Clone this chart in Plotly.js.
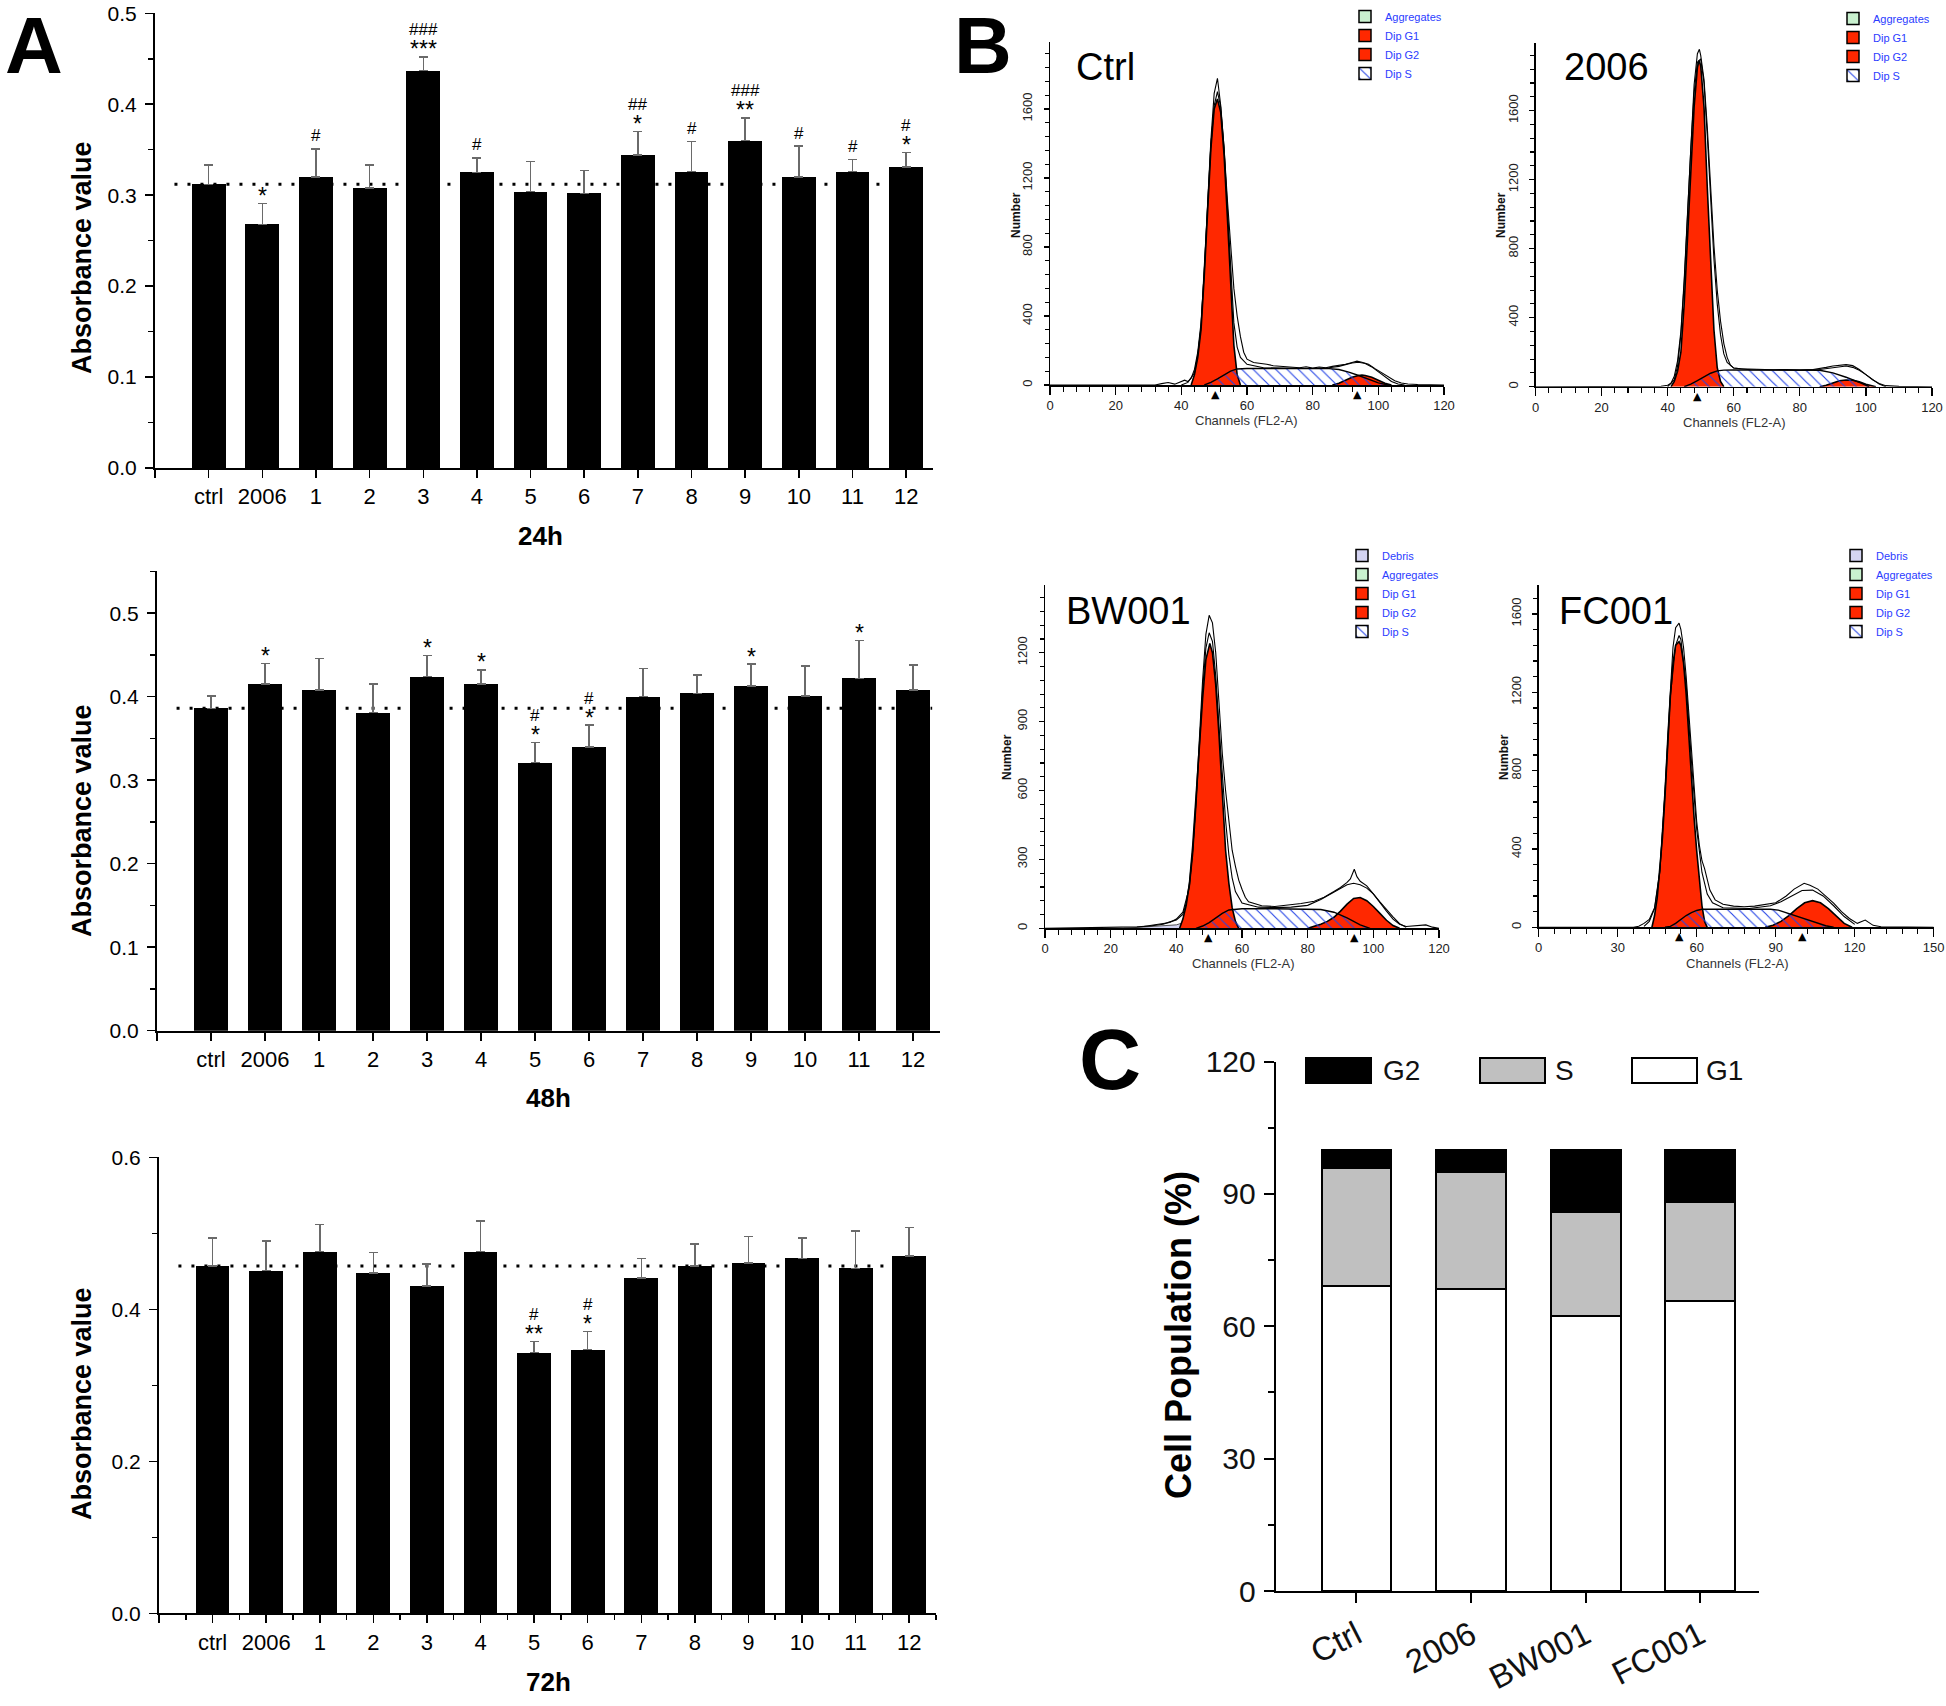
<!DOCTYPE html>
<html><head><meta charset="utf-8">
<script src="https://cdn.plot.ly/plotly-3.0.1.min.js"></script>
<style>html,body{margin:0;padding:0;background:#fff;width:1946px;height:1706px;overflow:hidden;} #chart{width:1946px;height:1706px;}</style>
</head><body><div id="chart"></div>
<script>
// ---------------- Panel A data ----------------
const categories = ['ctrl','2006','1','2','3','4','5','6','7','8','9','10','11','12'];
const mean24 = [0.312, 0.268, 0.320, 0.308, 0.437, 0.325, 0.304, 0.302, 0.344, 0.326, 0.360, 0.320, 0.326, 0.331];
const sd24   = [0.021, 0.023, 0.031, 0.025, 0.015, 0.016, 0.033, 0.025, 0.026, 0.033, 0.025, 0.034, 0.013, 0.016];
const star24 = ['', '*', '', '', '***', '', '', '', '*', '', '**', '', '', '*'];
const hash24 = ['', '', '#', '', '###', '#', '', '', '##', '#', '###', '#', '#', '#'];
const mean48 = [0.386, 0.415, 0.408, 0.381, 0.424, 0.415, 0.321, 0.340, 0.400, 0.404, 0.413, 0.401, 0.422, 0.408];
const sd48   = [0.015, 0.025, 0.038, 0.034, 0.025, 0.017, 0.024, 0.026, 0.034, 0.022, 0.026, 0.036, 0.045, 0.030];
const star48 = ['', '*', '', '', '*', '*', '*', '*', '', '', '*', '', '*', ''];
const hash48 = ['', '', '', '', '', '', '#', '#', '', '', '', '', '', ''];
const mean72 = [0.457, 0.451, 0.476, 0.448, 0.431, 0.476, 0.343, 0.347, 0.441, 0.457, 0.461, 0.467, 0.454, 0.470];
const sd72   = [0.037, 0.039, 0.036, 0.027, 0.029, 0.040, 0.015, 0.024, 0.026, 0.029, 0.035, 0.027, 0.049, 0.038];
const star72 = ['', '', '', '', '', '', '**', '*', '', '', '', '', '', ''];
const hash72 = ['', '', '', '', '', '', '#', '#', '', '', '', '', '', ''];
const timeLabels = ['24h', '48h', '72h'];

// ---------------- Panel C data ----------------
const cycleGroups = ['Ctrl', '2006', 'BW001', 'FC001'];
const g1Pct = [69.1, 68.4, 62.4, 65.7];
const sPct  = [26.8, 26.6, 23.6, 22.5];
const g2Pct = [4.1, 5.0, 14.0, 11.8];
const phaseNames = ['G2', 'S', 'G1'];
const phaseFill = ['#000000', '#c0c0c0', '#ffffff'];

// ---------------- Panel B data (channel, count) ----------------
const ctrlDataCh = [0,32,34,36,38,40,41,42,43,44,45,46,47,48,49,50,51,52,53,54,55,56,57,58,59,60,62,64,66,68,70,72,74,76,78,80,82,84,86,88,90,92,93.5,95,97,99,101,103,105,107,109,112,115,120];
const ctrlDataN  = [0,0,8,14,5,22,28,20,40,90,190,360,660,1050,1420,1690,1778,1620,1380,1080,790,560,400,280,190,150,130,126,120,112,110,108,104,100,106,98,104,100,108,112,120,130,138,132,120,95,70,45,25,12,6,3,2,0];
const ctrlFitCh = [40,42,44,45,46,47,48,49,50,51,52,53,54,55,56,57,58,60,65,70,75,80,85,88,90,92,94,96,98,100,102,104,106,108];
const ctrlFitN  = [0,15,70,175,340,660,1040,1390,1620,1700,1610,1380,1030,650,360,220,160,120,100,98,97,96,100,108,118,128,132,125,105,75,45,20,6,0];
const ctrlG1Ch = [43,44,45,46,47,48,49,50,51,52,53,54,55,56,57,58];
const ctrlG1N  = [0,60,160,320,640,1020,1370,1600,1658,1580,1340,980,560,230,60,0];
const ctrlSCh = [47,49,51,53,55,57,60,70,80,85,88,91,94,97,100,103];
const ctrlSN  = [0,15,35,58,80,93,96,96,96,95,90,75,55,32,12,0];
const ctrlG2Ch = [86,88,90,92,94,95,96,98,100,102,104];
const ctrlG2N  = [0,10,28,45,55,58,55,45,28,10,0];
const ctrlPeaks = [50.5, 93.6];

const d06DataCh = [0,36,38,40,41,42,43,44,45,46,47,48,49,49.6,50,51,52,53,54,55,56,57,58,59,60,62,64,68,72,76,80,84,86,88,90,92,94,96,98,100,102,104,106,110,120];
const d06DataN  = [0,0,3,8,20,60,150,320,620,1000,1400,1750,1930,1955,1920,1780,1500,1150,820,560,380,250,170,125,108,104,102,100,98,100,97,100,104,112,120,124,128,122,100,70,40,18,6,2,0];
const d06FitCh = [40,42,43,44,45,46,47,48,49,50,51,52,53,54,55,56,57,58,60,65,70,80,86,88,90,92,94,96,98,100,102,104,106];
const d06FitN  = [0,40,120,300,600,1000,1380,1700,1880,1900,1760,1450,1080,740,480,300,190,140,108,98,97,96,100,106,112,118,120,112,95,70,40,15,0];
const d06G1Ch = [41,42,43,44,45,46,47,48,49,49.5,50,51,52,53,54,55,56,57];
const d06G1N  = [0,30,90,200,480,850,1250,1620,1850,1891,1860,1620,1150,700,330,110,30,0];
const d06SCh = [45,47,49,51,53,55,57,60,70,80,86,90,94,98,101];
const d06SN  = [0,15,35,58,78,92,96,97,97,97,95,80,55,25,0];
const d06G2Ch = [86,88,90,92,94,96,98,100,103];
const d06G2N  = [0,8,22,34,39,37,28,14,0];
const d06Peaks = [49];

const bwDataCh = [0,24,28,32,36,38,40,42,43,44,45,46,47,48,49,50,51,52,53,54,55,56,57,58,59,60,61,62,66,70,74,78,82,85,88,90,92,93,94.2,95,96,98,100,102,104,106,108,110,113,116,118,120];
const bwDataN  = [0,4,6,10,18,28,36,60,110,200,340,560,830,1080,1280,1363,1330,1200,980,760,600,460,340,270,210,170,135,115,98,95,100,108,118,135,160,178,200,215,257,225,205,185,150,110,75,40,18,8,10,15,5,0];
const bwFitCh = [30,38,40,42,44,45,46,47,48,49,50,51,52,53,54,55,56,57,58,60,65,70,75,80,84,87,90,92,94,96,98,100,102,104,106,108,110];
const bwFitN  = [8,25,40,70,180,320,530,800,1040,1220,1287,1250,1100,880,660,470,320,220,160,110,92,90,92,100,125,150,175,190,196,190,175,150,115,80,50,20,5];
const bwG1Ch = [41,42,43,44,45,46,47,48,49,50,50.2,51,52,53,54,55,56,57,58,59];
const bwG1N  = [0,40,100,196,360,580,800,1000,1170,1235,1240,1200,1060,840,580,340,196,90,30,0];
const bwSCh = [46,48,50,52,54,56,58,60,70,80,84,88,92,96,99];
const bwSN  = [0,10,25,45,65,80,84,85,85,84,82,70,45,15,0];
const bwG2Ch = [80,82,84,86,88,90,92,94,96,98,100,102,104,106,108];
const bwG2N  = [0,8,18,30,48,75,105,130,134,120,95,65,35,12,0];
const bwDebrisCh = [24,30,36,40,43,45,46,48,50,53,56];
const bwDebrisN  = [0,5,10,15,28,40,44,38,25,10,0];
const bwPeaks = [49.8, 94.2];

const fcDataCh = [0,36,38,40,42,44,46,47,48,49,50,51,52,53.3,54,55,56,57,58,59,60,61,62,63,64,65,67,70,74,78,82,86,90,94,97,100.8,103,106,109,112,115,118,121,124,127,130,150];
const fcDataN  = [0,0,5,20,40,100,290,480,720,980,1230,1430,1530,1553,1520,1430,1280,1100,900,700,540,420,340,300,250,190,140,118,108,105,108,115,125,160,195,225,215,195,160,123,80,45,20,37,10,3,0];
const fcFitCh = [40,42,44,46,48,50,52,53.3,54,56,58,60,62,64,66,70,80,88,92,96,100,104,108,112,116,120];
const fcFitN  = [5,30,95,280,690,1180,1440,1490,1470,1240,850,500,280,170,125,100,96,110,130,160,188,190,160,110,55,15];
const fcG1Ch = [43,44,45,46,47,48,49,50,51,52,53.3,54,55,56,57,58,59,60,61,62,63,64];
const fcG1N  = [0,60,150,290,460,680,940,1180,1350,1440,1459,1440,1350,1190,980,760,560,390,230,110,30,0];
const fcSCh = [48,50,52,54,56,58,60,62,70,80,88,91,95,100,105,109,112];
const fcSN  = [0,5,20,40,60,75,86,92,93,93,92,88,70,45,22,8,0];
const fcG2Ch = [86,89,92,95,98,101,104,107,110,113,116,119];
const fcG2N  = [0,10,30,60,95,125,136,125,95,55,20,0];
const fcPeaks = [53.3, 100.3];

// legend keys (components named in the ModFit legends)
const legendNames = ['Debris', 'Aggregates', 'Dip G1', 'Dip G2', 'Dip S'];
const legendColors = ['#d4d4f2', '#c9f1cf', '#ff2800', '#ff2800', '#ffffff'];
const noData = [null];

// ---------------- build ----------------
const W = 1946, H = 1706;
const FONT = 'Liberation Sans, Arial, sans-serif';
const NARROW = 'Liberation Sans Narrow, Arial Narrow, Liberation Sans, Arial, sans-serif';
const px = p => p / W;
const py = p => 1 - p / H;
const dx = (a, b) => [px(a), px(b)];
const dy = (top, bottom) => [py(bottom), py(top)];

const traces = [];
const annotations = [];
const shapes = [];
const layout = {
  width: W, height: H, autosize: false, margin: {l: 0, r: 0, t: 0, b: 0},
  paper_bgcolor: '#ffffff', plot_bgcolor: 'rgba(0,0,0,0)',
  font: {family: FONT, color: '#000'},
  barmode: 'stack', showlegend: true,
  annotations: annotations, shapes: shapes
};

const idx = categories.map((c, i) => i);

function barPanel(n, xdom, ydom, ymax, dt, mdt, xMinor, means, sds, stars, hashes) {
  const xa = n === 1 ? 'x' : 'x' + n, ya = n === 1 ? 'y' : 'y' + n;
  const xk = n === 1 ? 'xaxis' : 'xaxis' + n, yk = n === 1 ? 'yaxis' : 'yaxis' + n;
  traces.push({
    type: 'bar', x: idx, y: means, xaxis: xa, yaxis: ya, width: 0.63,
    marker: {color: '#000', line: {width: 0}}, showlegend: false, hoverinfo: 'skip',
    error_y: {type: 'data', symmetric: false, array: sds, arrayminus: sds.map(() => 0),
              color: '#6a6a6a', thickness: 1.5, width: 4.5}
  });
  shapes.push({type: 'line', xref: xa + ' domain', yref: ya, x0: 0.025, x1: 0.99,
               y0: means[0], y1: means[0], layer: 'below',
               line: {color: '#000', width: 3, dash: '3px,10px'}});
  idx.forEach(i => {
    const top = means[i] + sds[i];
    if (stars[i]) annotations.push({xref: xa, yref: ya, x: i, y: top, text: stars[i], showarrow: false,
      yanchor: 'middle', yshift: 7.5, font: {size: 23, color: '#000'}});
    if (hashes[i]) annotations.push({xref: xa, yref: ya, x: i, y: top, text: hashes[i], showarrow: false,
      yanchor: 'middle', yshift: stars[i] ? 27 : 13, font: {size: 17, color: '#000'}});
  });
  layout[xk] = {
    domain: xdom, anchor: ya, range: [-1, 13.5], tickmode: 'array',
    tickvals: [-1].concat(idx), ticktext: [''].concat(categories),
    ticks: 'outside', ticklen: 8, tickwidth: 1.5, tickcolor: '#000',
    showline: true, linewidth: 2, linecolor: '#000', showgrid: false, zeroline: false,
    tickfont: {size: 22, color: '#000'}, fixedrange: true
  };
  if (xMinor) layout[xk].minor = {tickmode: 'linear', tick0: -0.5, dtick: 1, ticks: 'outside',
                                  ticklen: 5, tickwidth: 1.5, tickcolor: '#000'};
  layout[yk] = {
    domain: ydom, anchor: xa, range: [0, ymax], tick0: 0, dtick: dt, tickformat: '.1f',
    ticks: 'outside', ticklen: 8, tickwidth: 1.5, tickcolor: '#000', ticklabelstandoff: 4,
    minor: {tick0: 0, dtick: mdt, ticks: 'outside', ticklen: 5, tickwidth: 1.5, tickcolor: '#000'},
    showline: true, linewidth: 2, linecolor: '#000', showgrid: false, zeroline: false,
    tickfont: {size: 21, color: '#000'}, fixedrange: true
  };
}

barPanel(1, dx(155, 933), dy(13.3, 468), 0.5, 0.1, 0.05, false, mean24, sd24, star24, hash24);
barPanel(2, dx(157, 940), dy(571.4, 1030.7), 0.55, 0.1, 0.05, false, mean48, sd48, star48, hash48);
barPanel(3, dx(159, 936), dy(1157.4, 1613.3), 0.6, 0.2, 0.1, true, mean72, sd72, star72, hash72);

const yTitleY = [258, 821, 1404];
const timeX = [540, 548, 548];
const timeY = [536, 1097.5, 1681.5];
timeLabels.forEach((t, k) => {
  annotations.push({xref: 'paper', yref: 'paper', x: px(timeX[k]), y: py(timeY[k]), text: '<b>' + t + '</b>',
    showarrow: false, xanchor: 'center', yanchor: 'middle', font: {size: 26, color: '#000'}});
  annotations.push({xref: 'paper', yref: 'paper', x: px(82), y: py(yTitleY[k]), text: '<b>Absorbance value</b>',
    textangle: -90, showarrow: false, xanchor: 'center', yanchor: 'middle', font: {size: 27, color: '#000'}});
});

// ---------------- Panel B ----------------
function flowPanel(n, legendId, d) {
  const xa = 'x' + n, ya = 'y' + n;
  const c = {type: 'scatter', mode: 'lines', xaxis: xa, yaxis: ya, hoverinfo: 'skip', showlegend: false};
  if (d.debrisCh) traces.push(Object.assign({}, c, {name: 'Debris', x: d.debrisCh, y: d.debrisN, fill: 'tozeroy',
    fillcolor: legendColors[0], line: {color: '#555', width: 1}}));
  traces.push(Object.assign({}, c, {name: 'Dip G1', x: d.g1Ch, y: d.g1N, fill: 'tozeroy',
    fillcolor: legendColors[2], line: {color: '#000', width: 1.6}}));
  traces.push(Object.assign({}, c, {name: 'Dip G2', x: d.g2Ch, y: d.g2N, fill: 'tozeroy',
    fillcolor: legendColors[3], line: {color: '#000', width: 1.6}}));
  traces.push(Object.assign({}, c, {name: 'Dip S', x: d.sCh, y: d.sN, fill: 'tozeroy',
    fillcolor: 'rgba(255,255,255,0)',
    fillpattern: {shape: '\\', fgcolor: '#2544e6', bgcolor: 'rgba(255,255,255,0)', size: 8, solidity: 0.14},
    line: {color: '#000', width: 1.4}}));
  traces.push(Object.assign({}, c, {name: 'fit', x: d.fitCh, y: d.fitN, line: {color: '#000', width: 1.1}}));
  traces.push(Object.assign({}, c, {name: 'data', x: d.dataCh, y: d.dataN, line: {color: '#000', width: 1.1}}));
  legendNames.forEach((nm, k) => {
    if (k === 0 && !d.showDebris) return;
    const mk = {color: legendColors[k], line: {color: '#000', width: 1.5}};
    if (nm === 'Dip S') mk.pattern = {shape: '\\', fgcolor: '#2544e6', bgcolor: '#ffffff', size: 9, solidity: 0.15};
    traces.push({type: 'bar', x: noData, y: noData, xaxis: xa, yaxis: ya, name: nm, marker: mk,
      legend: legendId, showlegend: true, hoverinfo: 'skip', legendrank: k + 1});
  });
  d.peaks.forEach(p => annotations.push({xref: xa, yref: ya, x: p, y: 0, text: '▲', showarrow: false,
    yanchor: 'top', yshift: -1, font: {size: 11, color: '#000', family: 'DejaVu Sans'}}));
  layout['xaxis' + n] = {
    domain: d.xdom, anchor: ya, range: [0, d.xmax], tick0: 0, dtick: d.xdt,
    ticks: 'outside', ticklen: 8, tickwidth: 1.2, tickcolor: '#000',
    minor: {tick0: 0, dtick: d.xmdt, ticks: 'outside', ticklen: 5, tickwidth: 1.1, tickcolor: '#000'},
    showline: true, linewidth: 1.5, linecolor: '#000', showgrid: false, zeroline: false,
    tickfont: {size: 13, family: NARROW, color: '#222'}, fixedrange: true
  };
  layout['yaxis' + n] = {
    domain: d.ydom, anchor: xa, range: [0, d.ymax], tick0: 0, dtick: d.ydt, tickangle: -90,
    ticks: 'outside', ticklen: 5, tickwidth: 1.2, tickcolor: '#000', ticklabelstandoff: 6,
    minor: {tick0: 0, dtick: d.ymdt, ticks: 'outside', ticklen: 4, tickwidth: 1.1, tickcolor: '#000'},
    showline: true, linewidth: 1.5, linecolor: '#000', showgrid: false, zeroline: false,
    tickfont: {size: 13, family: NARROW, color: '#222'}, fixedrange: true
  };
  annotations.push({xref: 'paper', yref: 'paper', x: px(d.nameX), y: py(d.nameY), text: d.name, showarrow: false,
    xanchor: 'center', yanchor: 'middle', font: {size: 38, color: '#000'}});
  annotations.push({xref: 'paper', yref: 'paper', x: px(d.numX), y: py(d.numY), text: '<b>Number</b>', textangle: -90,
    showarrow: false, xanchor: 'center', yanchor: 'middle', font: {size: 12, color: '#111'}});
  annotations.push({xref: 'paper', yref: 'paper', x: px(d.chX), y: py(d.chY), text: 'Channels (FL2-A)', showarrow: false,
    xanchor: 'center', yanchor: 'middle', font: {size: 13, family: NARROW, color: '#333'}});
  layout[legendId] = {x: px(d.legX), y: py(d.legY), xanchor: 'left', yanchor: 'top', bgcolor: 'rgba(0,0,0,0)',
    font: {size: 11, color: '#2b3cff', family: NARROW}, tracegroupgap: 0, itemwidth: 30, traceorder: 'normal'};
}

flowPanel(4, 'legend2', {name: 'Ctrl', nameX: 1105, nameY: 66.7, numX: 1016, numY: 215, chX: 1246, chY: 420.7,
  legX: 1345, legY: 2, xdom: dx(1050, 1444), ydom: dy(41.7, 385), xmax: 120, xdt: 20, xmdt: 4,
  ymax: 1990, ydt: 400, ymdt: 80, showDebris: false,
  dataCh: ctrlDataCh, dataN: ctrlDataN, fitCh: ctrlFitCh, fitN: ctrlFitN, g1Ch: ctrlG1Ch, g1N: ctrlG1N,
  sCh: ctrlSCh, sN: ctrlSN, g2Ch: ctrlG2Ch, g2N: ctrlG2N, peaks: ctrlPeaks});
flowPanel(5, 'legend3', {name: '2006', nameX: 1606.6, nameY: 66.7, numX: 1501, numY: 215, chX: 1734, chY: 422.7,
  legX: 1833, legY: 4, xdom: dx(1535.5, 1932), ydom: dy(43.3, 386.7), xmax: 120, xdt: 20, xmdt: 4,
  ymax: 1990, ydt: 400, ymdt: 80, showDebris: false,
  dataCh: d06DataCh, dataN: d06DataN, fitCh: d06FitCh, fitN: d06FitN, g1Ch: d06G1Ch, g1N: d06G1N,
  sCh: d06SCh, sN: d06SN, g2Ch: d06G2Ch, g2N: d06G2N, peaks: d06Peaks});
flowPanel(6, 'legend4', {name: 'BW001', nameX: 1128, nameY: 610.8, numX: 1007, numY: 757, chX: 1243, chY: 963,
  legX: 1342, legY: 541, xdom: dx(1045, 1439), ydom: dy(585, 928.3), xmax: 120, xdt: 20, xmdt: 4,
  ymax: 1495, ydt: 300, ymdt: 60, showDebris: true, debrisCh: bwDebrisCh, debrisN: bwDebrisN,
  dataCh: bwDataCh, dataN: bwDataN, fitCh: bwFitCh, fitN: bwFitN, g1Ch: bwG1Ch, g1N: bwG1N,
  sCh: bwSCh, sN: bwSN, g2Ch: bwG2Ch, g2N: bwG2N, peaks: bwPeaks});
flowPanel(7, 'legend5', {name: 'FC001', nameX: 1615.8, nameY: 610.8, numX: 1504, numY: 757, chX: 1737, chY: 963,
  legX: 1836, legY: 541, xdom: dx(1538.7, 1933.7), ydom: dy(585, 927.3), xmax: 150, xdt: 30, xmdt: 6,
  ymax: 1748, ydt: 400, ymdt: 80, showDebris: true,
  dataCh: fcDataCh, dataN: fcDataN, fitCh: fcFitCh, fitN: fcFitN, g1Ch: fcG1Ch, g1N: fcG1N,
  sCh: fcSCh, sN: fcSN, g2Ch: fcG2Ch, g2N: fcG2N, peaks: fcPeaks});

// ---------------- Panel C ----------------
const gIdx = cycleGroups.map((g, i) => i);
const cBar = {type: 'bar', x: gIdx, xaxis: 'x8', yaxis: 'y8', width: 0.61, hoverinfo: 'skip', showlegend: false};
traces.push(Object.assign({}, cBar, {name: 'G1', y: g1Pct, marker: {color: phaseFill[2], line: {color: '#000', width: 2}}}));
traces.push(Object.assign({}, cBar, {name: 'S', y: sPct, marker: {color: phaseFill[1], line: {color: '#000', width: 2}}}));
traces.push(Object.assign({}, cBar, {name: 'G2', y: g2Pct, marker: {color: phaseFill[0], line: {color: '#000', width: 2}}}));
layout.xaxis8 = {domain: dx(1275.7, 1758.6), anchor: 'y8', range: [-0.705, 3.51], tickmode: 'array',
  tickvals: gIdx, ticktext: cycleGroups, tickangle: -27, ticks: 'outside', ticklen: 10, tickwidth: 2, tickcolor: '#000',
  showline: true, linewidth: 2, linecolor: '#000', showgrid: false, zeroline: false,
  tickfont: {size: 33, color: '#111'}, fixedrange: true};
layout.yaxis8 = {domain: dy(1061.6, 1591), anchor: 'x8', range: [0, 120], tick0: 0, dtick: 30,
  ticks: 'outside', ticklen: 10, tickwidth: 2, tickcolor: '#000', ticklabelstandoff: 2,
  minor: {tick0: 0, dtick: 15, ticks: 'outside', ticklen: 6, tickwidth: 2, tickcolor: '#000'},
  showline: true, linewidth: 2, linecolor: '#000', showgrid: false, zeroline: false,
  tickfont: {size: 30, color: '#111'}, fixedrange: true};
const keyBoxX = [1338.5, 1512, 1664];
const keyTextX = [1381, 1553, 1704];
phaseNames.forEach((nm, k) => {
  annotations.push({xref: 'paper', yref: 'paper', x: px(keyBoxX[k]), y: py(1070.5), text: ' ', showarrow: false,
    xanchor: 'center', yanchor: 'middle', width: 63, height: 23, borderpad: 0, borderwidth: 2,
    bordercolor: '#000', bgcolor: phaseFill[k], font: {size: 4}});
  annotations.push({xref: 'paper', yref: 'paper', x: px(keyTextX[k]), y: py(1070), text: nm, showarrow: false,
    xanchor: 'left', yanchor: 'middle', font: {size: 28, color: '#111'}});
});
annotations.push({xref: 'paper', yref: 'paper', x: px(1178), y: py(1335), text: '<b>Cell Population (%)</b>',
  textangle: -90, showarrow: false, xanchor: 'center', yanchor: 'middle', font: {size: 36, color: '#000'}});

// panel letters (A and B anchored to the top edge so they stay fully inside the page)
[['A', 33.5, 80], ['B', 983, 80]].forEach(l => {
  annotations.push({xref: 'paper', yref: 'paper', x: px(l[1]), y: 1, text: '<b>' + l[0] + '</b>',
    showarrow: false, xanchor: 'center', yanchor: 'top', borderpad: 0, font: {size: l[2], color: '#000'}});
});
annotations.push({xref: 'paper', yref: 'paper', x: px(1110), y: py(1059), text: '<b>C</b>',
  showarrow: false, xanchor: 'center', yanchor: 'middle', font: {size: 86, color: '#000'}});

Plotly.newPlot('chart', traces, layout, {displayModeBar: false, staticPlot: true});
</script></body></html>
